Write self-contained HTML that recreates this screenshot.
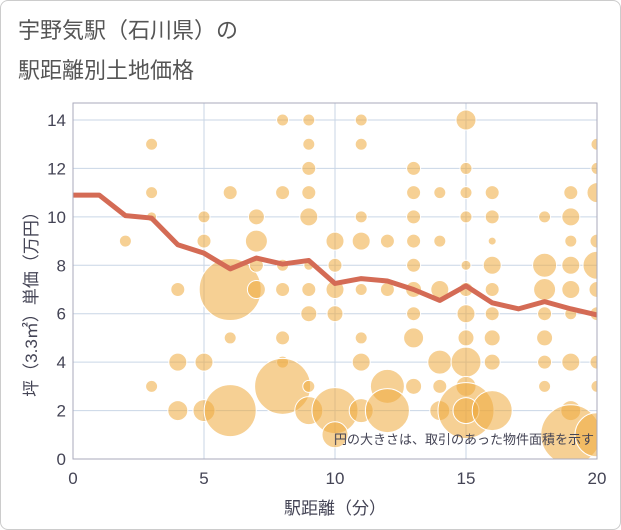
<!DOCTYPE html>
<html><head><meta charset="utf-8"><style>
body{margin:0;background:#fff;}
#card{position:absolute;left:0;top:0;width:619px;height:528px;border:1px solid #ccc;border-radius:8px;background:#fff;}
.t{font-family:"Liberation Sans","Noto Sans CJK JP",sans-serif;}
</style></head><body>
<div id="card"></div>
<svg id="chart" width="621" height="530" style="position:absolute;left:0;top:0">
<text class="t" x="18" y="38" font-size="22" fill="#555">宇野気駅（石川県）の</text>
<text class="t" x="18" y="78" font-size="22" fill="#555">駅距離別土地価格</text>
<g id="grid"></g>
<g id="bubbles" clip-path="url(#clip)"></g>
<g id="line"></g>
<g id="axes"></g>
<defs><clipPath id="clip"><rect x="73" y="103" width="524" height="356"/></clipPath></defs>
<text class="t" x="594" y="444" font-size="13" fill="#445" text-anchor="end">円の大きさは、取引のあった物件面積を示す</text>
<text class="t" x="335" y="514" font-size="17" fill="#445" text-anchor="middle">駅距離（分）</text>
<text class="t" x="0" y="0" font-size="17" fill="#445" text-anchor="middle" transform="translate(37,300) rotate(-90)">坪（3.3㎡）単価（万円）</text>
</svg>
<script>
const xTicks=[0,5,10,15,20];
const yTicks=[0,2,4,6,8,10,12,14];
const lineX=[0,1,2,3,4,5,6,7,8,9,10,11,12,13,14,15,16,17,18,19,20];
const lineY=[10.9,10.9,10.05,9.95,8.85,8.5,7.85,8.3,8.05,8.2,7.25,7.45,7.35,7.0,6.55,7.15,6.45,6.2,6.5,6.2,5.95];
const bx=[2,3,3,3,3,4,4,4,5,5,5,5,6,6,6,6,7,7,7,7,8,8,8,8,8,8,8,9,9,9,9,9,9,9,9,9,9,10,10,10,10,10,10,11,11,11,11,11,11,11,11,12,12,12,12,13,13,13,13,13,13,13,13,13,14,14,14,14,14,14,15,15,15,15,15,15,15,15,15,15,15,15,16,16,16,16,16,16,16,16,16,18,18,18,18,18,18,18,19,19,19,19,19,19,19,19,19,20,20,20,20,20,20,20,20,20,20];
const by=[9,13,11,10,3,7,4,2,10,9,4,2,11,7,5,2,10,9,8,7,14,11,7,5,4,3,8,14,13,12,11,10,8,7,6,3,2,9,8,7,6,2,1,14,13,10,9,7,5,4,2,9,7,3,2,12,11,10,9,8,7,6,5,3,11,9,7,4,3,2,14,12,11,10,8,7,6,5,4,3,2,2,11,10,9,8,7,6,5,4,2,10,8,7,6,5,4,3,11,10,9,8,7,6,4,2,1,13,12,11,9,8,7,6,4,3,1];
const bsize=[36,36,36,25,36,49,81,100,36,49,81,121,49,961,36,676,64,121,49,81,36,49,49,49,36,784,36,36,36,49,49,81,25,49,64,36,196,81,49,81,64,529,169,36,36,36,81,36,36,81,144,49,49,289,484,49,49,49,49,49,64,49,100,64,36,36,81,144,49,100,100,36,36,36,25,49,81,64,225,100,784,169,49,49,16,81,49,49,64,64,400,36,144,121,49,64,49,36,49,81,36,81,81,36,81,100,900,36,36,100,49,196,64,49,49,36,484];
const X=v=>73+v*(524/20), Y=v=>459-v*(339/14);
const NS="http://www.w3.org/2000/svg";
const grid=document.getElementById('grid'),axes=document.getElementById('axes');
function mk(t,a,p){const e=document.createElementNS(NS,t);for(const k in a)e.setAttribute(k,a[k]);p.appendChild(e);return e;}
for(const v of xTicks){
const l=mk('line',{x1:X(v),x2:X(v),y1:103,y2:459,stroke:'#c9d6e6','stroke-width':1},grid);


const t=mk('text',{x:X(v),y:484,'font-size':17,fill:'#445','text-anchor':'middle',class:'t'},axes);t.textContent=v;

}
for(const v of yTicks){
const l=mk('line',{x1:73,x2:597,y1:Y(v),y2:Y(v),stroke:'#c9d6e6','stroke-width':1},grid);


const t=mk('text',{x:66,y:Y(v)+6,'font-size':17,fill:'#445','text-anchor':'end',class:'t'},axes);t.textContent=v;

}
const fr=mk('rect',{x:73,y:103,width:524,height:356,fill:'none',stroke:'#aab','stroke-width':1},axes);


const bg=document.getElementById('bubbles');
for(let i=0;i<bx.length;i++){
const c=mk('circle',{cx:X(bx[i]),cy:Y(by[i]),r:Math.sqrt(bsize[i]),fill:'rgba(238,170,60,0.55)',stroke:'#fff','stroke-width':1},bg);

}
const pl=mk('polyline',{points:lineX.map((v,i)=>X(v)+','+Y(lineY[i])).join(' '),fill:'none',stroke:'#d46b55','stroke-width':5,'stroke-linejoin':'round'},document.getElementById('line'));


</script>
</body></html>
